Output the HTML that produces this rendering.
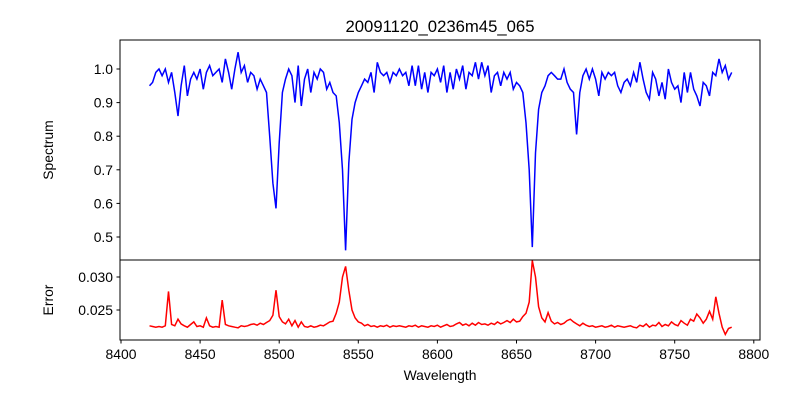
<!DOCTYPE html>
<html><head><meta charset="utf-8"><style>
body{margin:0;background:#fff}
svg text{font-family:"Liberation Sans","DejaVu Sans",sans-serif;fill:#000}
</style></head><body>
<svg id="chart" width="800" height="400" xmlns="http://www.w3.org/2000/svg">
<rect width="800" height="400" fill="#fff"/>
<text x="440" y="32" font-size="16.7" text-anchor="middle">20091120_0236m45_065</text>
<g id="top"></g><g id="bot"></g><g id="xax"></g>
<rect x="120" y="40" width="640" height="220" fill="none" stroke="#000" stroke-width="1"/>
<rect x="120" y="260" width="640" height="80" fill="none" stroke="#000" stroke-width="1"/>
<text transform="translate(53,150) rotate(-90)" font-size="13.9" text-anchor="middle">Spectrum</text>
<text transform="translate(53,300) rotate(-90)" font-size="13.9" text-anchor="middle">Error</text>
<text x="440" y="380" font-size="13.9" text-anchor="middle">Wavelength</text>
</svg>
<script>
const startWavelength = 8418;
const wavelengthStep = 2;
const spectrum = [
.95,.96,.99,1.00,.98,1.00,.96,.99,.93,.86,
.95,1.01,.92,.97,.99,.97,1.00,.94,.99,1.01,
.98,.99,1.00,.96,1.03,.99,.94,1.00,1.05,.99,
1.01,.96,.99,.98,.94,.97,.95,.93,.80,.66,
.585,.78,.93,.97,1.00,.98,.90,1.01,.89,.97,
1.00,.93,.99,.97,1.00,.99,.94,.96,.93,.92,
.84,.70,.46,.72,.85,.90,.93,.95,.97,.96,
.99,.93,1.02,.99,.98,.99,.96,.99,.98,1.00,
.98,.99,.95,1.01,.95,1.01,.94,.99,.93,.99,
.98,1.00,.96,1.01,.93,.99,.94,1.00,.97,1.01,
.94,.99,.98,1.02,.97,1.02,.98,1.01,.93,.98,
.99,.95,.99,.97,.99,.94,.96,.95,.93,.84,
.70,.47,.75,.88,.93,.95,.98,.99,.98,.97,
.97,1.00,.96,.94,.93,.805,.93,.98,1.00,.97,
1.00,.97,.92,.99,.97,.99,.98,.99,.95,.93,
.96,.97,.95,.99,.96,1.02,.97,.93,.91,.99,
.97,.92,.96,.91,1.00,.96,.94,.95,.90,.99,
.93,.99,.94,.92,.89,.96,.95,.92,.99,.98,
1.03,.99,1.01,.97,.99];
const errorValues = [
.0226,.0225,.0224,.0225,.0224,.0226,.0278,.0228,.0226,.0236,
.0229,.0226,.0224,.0228,.0232,.0225,.0226,.0224,.0238,.0226,
.0224,.0225,.0224,.0265,.0228,.0226,.0225,.0224,.0223,.0226,
.0225,.0226,.0228,.0229,.0227,.0230,.0228,.0231,.0234,.0242,
.0280,.0240,.0232,.0229,.0236,.0226,.0234,.0224,.0232,.0225,
.0224,.0226,.0224,.0225,.0227,.0226,.0229,.0232,.0233,.0245,
.0262,.0300,.0316,.0280,.0250,.0238,.0232,.0230,.0226,.0228,
.0225,.0226,.0224,.0226,.0225,.0227,.0224,.0226,.0225,.0226,
.0225,.0224,.0226,.0225,.0227,.0224,.0226,.0225,.0224,.0226,
.0225,.0227,.0224,.0226,.0228,.0225,.0226,.0229,.0231,.0227,
.0229,.0226,.0230,.0227,.0231,.0228,.0229,.0227,.0230,.0228,
.0232,.0229,.0231,.0234,.0231,.0236,.0232,.0233,.0240,.0245,
.0262,.0325,.0300,.0255,.0238,.0232,.0246,.0233,.0229,.0231,
.0228,.0230,.0234,.0236,.0232,.0229,.0226,.0230,.0227,.0225,
.0226,.0224,.0225,.0226,.0224,.0225,.0227,.0224,.0226,.0225,
.0224,.0225,.0226,.0224,.0223,.0227,.0225,.0229,.0224,.0227,
.0226,.0231,.0225,.0228,.0226,.0232,.0228,.0226,.0234,.0230,
.0227,.0236,.0233,.0244,.0238,.0230,.0236,.0248,.0236,.0270,
.0245,.0224,.0213,.0222,.0224];
const xTicks = [8400,8450,8500,8550,8600,8650,8700,8750,8800];
const specTicks = [0.5,0.6,0.7,0.8,0.9,1.0];
const errTicks = [0.025,0.030];

const NS="http://www.w3.org/2000/svg";
const xScale = w => 121 + (w-8400)*1.582;
const ySpec = v => 69 + (1.0-v)*336;
const yErr = v => 310 - (v-0.025)*6600;
function mk(tag,parent){const e=document.createElementNS(NS,tag);document.getElementById(parent).appendChild(e);return e;}

let d1="",d2="";
spectrum.forEach((v,i)=>{const w=startWavelength+i*wavelengthStep;d1+=(i?"L":"M")+xScale(w).toFixed(1)+","+ySpec(v).toFixed(1);});
errorValues.forEach((v,i)=>{const w=startWavelength+i*wavelengthStep;d2+=(i?"L":"M")+xScale(w).toFixed(1)+","+yErr(v).toFixed(1);});
const p1=mk("path","top");


p1.setAttribute("d",d1);p1.setAttribute("fill","none");p1.setAttribute("stroke","#0000ff");p1.setAttribute("stroke-width","1.5");
const p2=mk("path","bot");


p2.setAttribute("d",d2);p2.setAttribute("fill","none");p2.setAttribute("stroke","#ff0000");p2.setAttribute("stroke-width","1.5");

xTicks.forEach(t=>{const x=xScale(t);
 const l=mk("line","xax");
 
 
 l.setAttribute("x1",x);l.setAttribute("x2",x);l.setAttribute("y1",340);l.setAttribute("y2",343.5);l.setAttribute("stroke","#000");
 const tx=mk("text","xax");
 
 
 tx.setAttribute("x",x);tx.setAttribute("y",359);tx.setAttribute("font-size","13.9");tx.setAttribute("text-anchor","middle");tx.textContent=t;});
specTicks.forEach(t=>{const y=ySpec(t);
 const l=mk("line","top");
 
 
 l.setAttribute("x1",116.5);l.setAttribute("x2",120);l.setAttribute("y1",y);l.setAttribute("y2",y);l.setAttribute("stroke","#000");
 const tx=mk("text","top");
 
 
 tx.setAttribute("x",113);tx.setAttribute("y",y+5);tx.setAttribute("font-size","13.9");tx.setAttribute("text-anchor","end");tx.textContent=t.toFixed(1);});
errTicks.forEach(t=>{const y=yErr(t);
 const l=mk("line","bot");
 
 
 l.setAttribute("x1",116.5);l.setAttribute("x2",120);l.setAttribute("y1",y);l.setAttribute("y2",y);l.setAttribute("stroke","#000");
 const tx=mk("text","bot");
 
 
 tx.setAttribute("x",113);tx.setAttribute("y",y+5);tx.setAttribute("font-size","13.9");tx.setAttribute("text-anchor","end");tx.textContent=t.toFixed(3);});
</script>
</body></html>
